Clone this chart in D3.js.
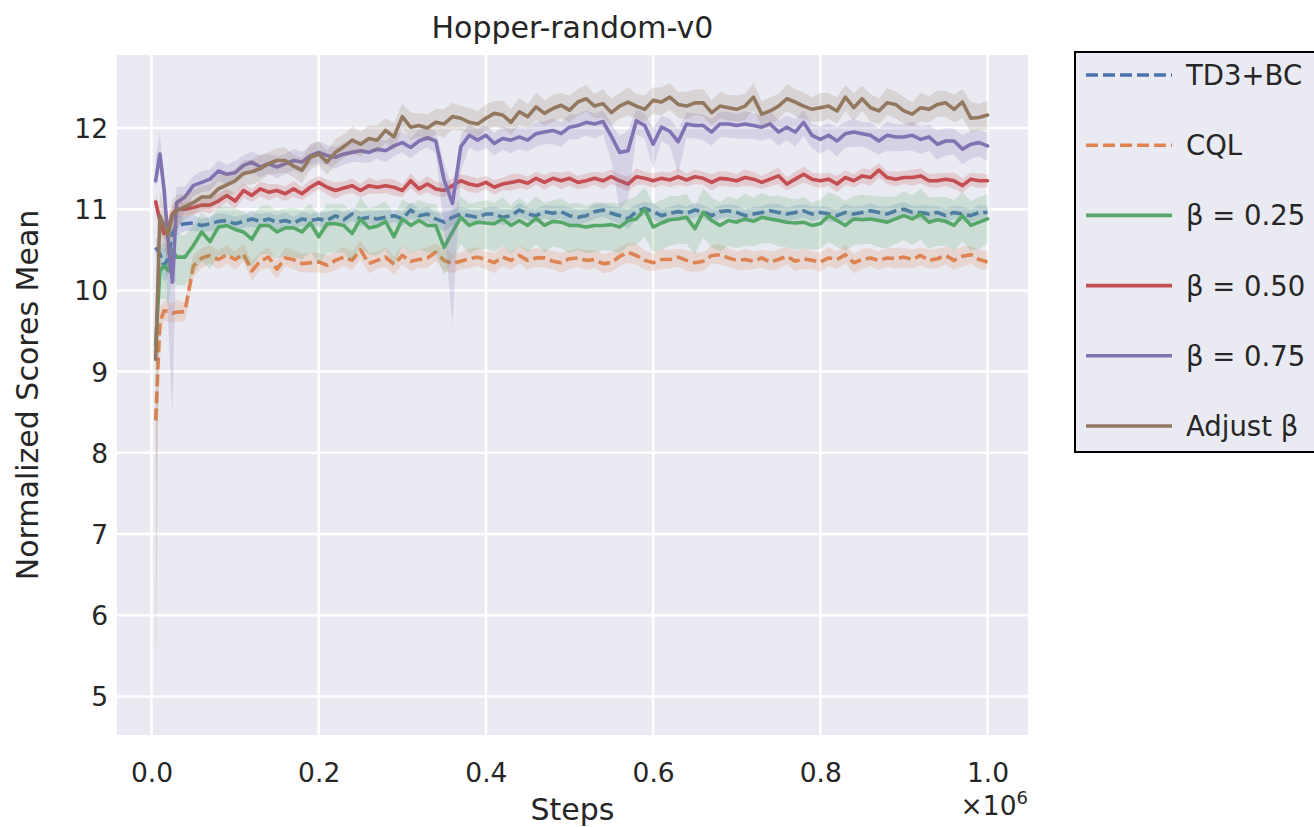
<!DOCTYPE html>
<html><head><meta charset="utf-8">
<script src="https://cdn.jsdelivr.net/npm/d3@7/dist/d3.min.js"></script>
<style>body{margin:0;background:#fff}svg{display:block}</style>
</head><body>
<svg id="c" width="1314" height="827"></svg>
<script>
// ---------------- data ----------------
const steps = [0.005,0.01,0.015,0.02,0.025,0.03,
 0.04,0.05,0.06,0.07,0.08,0.09,0.10,0.11,0.12,0.13,0.14,0.15,0.16,0.17,0.18,0.19,0.20,0.21,0.22,0.23,
 0.24,0.25,0.26,0.27,0.28,0.29,0.30,0.31,0.32,0.33,0.34,0.35,0.36,0.37,0.38,0.39,0.40,0.41,0.42,0.43,0.44,0.45,
 0.46,0.47,0.48,0.49,0.50,0.51,0.52,0.53,0.54,0.55,0.56,0.57,0.58,0.59,0.60,0.61,0.62,0.63,0.64,0.65,0.66,0.67,0.68,
 0.69,0.70,0.71,0.72,0.73,0.74,0.75,0.76,0.77,0.78,0.79,0.80,0.81,0.82,0.83,0.84,0.85,0.86,0.87,0.88,0.89,0.90,0.91,0.92,0.93,0.94,0.95,0.96,0.97,0.98,0.99,1.00];

const seriesNames = ["TD3+BC", "CQL", "β = 0.25", "β = 0.50", "β = 0.75", "Adjust β"];
const xTicks = [0.0, 0.2, 0.4, 0.6, 0.8, 1.0];
const xTickLabels = ["0.0", "0.2", "0.4", "0.6", "0.8", "1.0"];
const yTicks = [5, 6, 7, 8, 9, 10, 11, 12];

const td3Mean = [10.53,10.45,10.3,10.4,10.7,10.8,
 10.82,10.83,10.8,10.82,10.85,10.86,10.82,10.85,10.88,10.85,10.88,10.84,10.86,10.83,10.88,10.86,10.88,10.86,10.92,10.87,
 10.94,10.88,10.9,10.88,10.9,10.92,10.88,10.99,10.92,10.94,10.88,10.84,10.9,10.94,10.92,10.9,10.94,10.94,10.9,10.92,10.99,10.94,
 10.92,10.97,10.95,10.97,10.92,10.9,10.92,10.97,10.99,10.95,10.92,10.88,10.97,11.01,10.97,10.92,10.95,10.97,10.95,10.99,10.97,10.92,10.97,
 10.98,10.96,10.92,10.94,10.96,10.98,10.96,10.94,10.96,10.98,10.94,10.96,10.94,10.92,10.96,10.94,10.96,10.98,10.96,10.94,10.98,11.0,10.96,10.96,10.94,10.96,10.92,10.96,10.94,10.92,10.96,10.96];
const td3Sd = [.12,.15,.2,.2,.15,.12,
 .09,.1,.08,.09,.1,.08,.09,.08,.1,.09,.08,.09,.1,.08,.09,.08,.09,.1,.08,.09,
 .08,.09,.08,.1,.09,.08,.09,.1,.08,.09,.08,.12,.1,.09,.08,.09,.08,.09,.1,.08,.09,.08,
 .09,.08,.09,.08,.1,.09,.08,.09,.08,.09,.1,.12,.09,.08,.1,.09,.08,.09,.08,.09,.08,.09,.08,
 .08,.09,.08,.09,.08,.09,.1,.08,.09,.08,.09,.08,.09,.08,.1,.09,.08,.09,.08,.09,.08,.09,.08,.09,.1,.08,.09,.08,.09,.08,.09,.08];

const cqlMean = [8.4,9.6,9.75,9.74,9.72,9.73,
 9.74,10.3,10.4,10.43,10.38,10.44,10.38,10.45,10.24,10.36,10.41,10.26,10.4,10.38,10.33,10.34,10.35,10.31,10.37,10.41,
 10.37,10.5,10.33,10.37,10.41,10.32,10.43,10.36,10.38,10.4,10.47,10.37,10.33,10.36,10.39,10.41,10.38,10.34,10.41,10.37,10.43,10.37,
 10.4,10.4,10.36,10.34,10.39,10.4,10.37,10.38,10.33,10.34,10.42,10.47,10.43,10.37,10.34,10.38,10.38,10.41,10.37,10.34,10.36,10.43,10.44,
 10.4,10.37,10.38,10.36,10.4,10.35,10.38,10.42,10.36,10.39,10.37,10.35,10.4,10.38,10.44,10.34,10.38,10.4,10.37,10.4,10.39,10.41,10.38,10.43,10.37,10.39,10.43,10.37,10.42,10.44,10.38,10.35];
const cqlLo = [.8,.2,.12,.12,.12,.12,
 .12,.15,.12,.1,.12,.11,.13,.1,.12,.11,.13,.12,.1,.12,.11,.12,.13,.1,.12,.11,
 .12,.11,.12,.1,.12,.13,.11,.12,.1,.12,.11,.13,.12,.1,.12,.11,.12,.13,.11,.12,.1,.12,
 .11,.12,.1,.12,.13,.11,.12,.1,.12,.11,.12,.13,.11,.12,.1,.12,.11,.12,.13,.11,.12,.1,.12,
 .11,.12,.13,.1,.12,.11,.12,.1,.12,.13,.11,.12,.1,.12,.11,.13,.12,.1,.12,.11,.12,.13,.11,.12,.1,.12,.11,.12,.13,.11,.12,.1];
const cqlHi = [.3,.2,.12,.12,.12,.15,
 .11,.14,.12,.13,.11,.12,.1,.13,.12,.11,.12,.1,.13,.11,.12,.13,.11,.12,.1,.13,
 .11,.12,.13,.11,.12,.1,.13,.11,.12,.13,.11,.14,.12,.11,.13,.12,.1,.12,.13,.11,.12,.13,
 .12,.11,.13,.12,.1,.12,.13,.11,.12,.13,.11,.12,.14,.12,.11,.13,.12,.1,.12,.13,.11,.12,.13,
 .12,.11,.13,.12,.1,.13,.12,.11,.12,.13,.11,.12,.13,.1,.12,.11,.13,.12,.11,.12,.13,.11,.12,.1,.13,.12,.11,.13,.12,.11,.12,.13];

const b25Mean = [9.33,10.24,10.3,10.24,10.5,10.41,
 10.41,10.55,10.72,10.6,10.78,10.8,10.75,10.72,10.63,10.8,10.8,10.72,10.77,10.77,10.72,10.83,10.66,10.82,10.82,10.8,
 10.7,10.88,10.77,10.79,10.85,10.66,10.88,10.8,10.86,10.8,10.8,10.53,10.72,10.9,10.8,10.84,10.83,10.82,10.88,10.8,10.86,10.8,
 10.89,10.8,10.85,10.84,10.8,10.8,10.78,10.8,10.8,10.81,10.78,10.86,10.88,11.0,10.78,10.83,10.87,10.88,10.9,10.76,10.96,10.86,10.8,
 10.86,10.84,10.88,10.85,10.9,10.88,10.86,10.84,10.83,10.84,10.8,10.82,10.92,10.86,10.8,10.88,10.87,10.88,10.86,10.84,10.88,10.92,10.88,10.94,10.84,10.87,10.85,10.8,10.92,10.8,10.84,10.88];
const b25Lo = [.5,.35,.4,.4,.35,.35,
 .35,.35,.36,.34,.35,.37,.33,.35,.34,.36,.35,.33,.35,.36,.34,.35,.33,.36,.35,.34,
 .34,.35,.33,.36,.34,.35,.33,.34,.36,.33,.34,.35,.34,.33,.35,.34,.32,.34,.33,.35,.32,.33,
 .32,.33,.31,.32,.34,.31,.32,.33,.31,.32,.33,.31,.32,.34,.31,.33,.32,.31,.33,.32,.31,.33,.32,
 .31,.32,.33,.31,.32,.3,.32,.31,.33,.32,.3,.31,.32,.33,.31,.32,.3,.31,.33,.32,.31,.3,.32,.31,.33,.32,.3,.31,.32,.31,.33,.3];
const b25Hi = [.5,.3,.3,.3,.3,.3,
 .26,.25,.24,.27,.25,.24,.26,.25,.27,.24,.25,.26,.24,.25,.27,.24,.26,.25,.24,.26,
 .25,.27,.24,.26,.25,.27,.24,.26,.25,.27,.26,.28,.25,.26,.27,.25,.28,.26,.27,.25,.28,.26,
 .27,.28,.26,.29,.27,.28,.26,.29,.28,.27,.29,.26,.28,.27,.29,.28,.3,.28,.29,.27,.3,.28,.29,
 .3,.28,.31,.29,.3,.28,.31,.3,.29,.31,.28,.3,.29,.31,.3,.28,.31,.29,.3,.31,.28,.3,.29,.31,.3,.28,.3,.31,.29,.3,.31,.3];

const b50Mean = [11.09,10.86,10.7,10.76,10.94,11.0,
 11.0,11.02,11.05,11.05,11.1,11.17,11.1,11.23,11.17,11.25,11.21,11.23,11.19,11.25,11.19,11.27,11.33,11.27,11.23,11.26,
 11.29,11.23,11.29,11.27,11.29,11.27,11.23,11.35,11.25,11.31,11.25,11.23,11.29,11.35,11.31,11.29,11.33,11.27,11.31,11.33,11.35,11.32,
 11.38,11.33,11.38,11.35,11.38,11.33,11.35,11.38,11.35,11.4,11.35,11.31,11.4,11.38,11.35,11.38,11.36,11.4,11.36,11.4,11.38,11.33,11.38,
 11.37,11.35,11.39,11.37,11.33,11.37,11.41,11.31,11.37,11.43,11.37,11.35,11.37,11.31,11.39,11.35,11.41,11.39,11.48,11.39,11.37,11.39,11.39,11.41,11.35,11.35,11.37,11.35,11.29,11.37,11.35,11.35];
const b50Sd = [.12,.12,.1,.1,.1,.1,
 .08,.09,.08,.1,.09,.08,.1,.09,.08,.09,.1,.08,.09,.1,.08,.09,.08,.09,.1,.08,
 .09,.08,.1,.08,.09,.1,.08,.09,.08,.1,.09,.08,.09,.08,.1,.09,.08,.09,.08,.1,.09,.08,
 .08,.09,.08,.1,.09,.08,.09,.08,.1,.09,.08,.09,.1,.08,.09,.08,.09,.1,.08,.09,.08,.1,.09,
 .09,.08,.1,.09,.08,.09,.1,.08,.09,.1,.08,.09,.08,.1,.09,.08,.09,.1,.09,.08,.09,.08,.1,.09,.08,.09,.08,.1,.09,.08,.09,.08];

const b75Mean = [11.35,11.68,11.25,10.59,10.1,11.08,
 11.15,11.29,11.33,11.37,11.47,11.43,11.45,11.54,11.58,11.52,11.56,11.52,11.56,11.6,11.58,11.66,11.7,11.66,11.64,11.68,
 11.7,11.72,11.7,11.74,11.72,11.78,11.82,11.76,11.84,11.88,11.84,11.36,11.07,11.77,11.91,11.85,11.91,11.81,11.87,11.85,11.89,11.85,
 11.93,11.95,11.97,11.93,12.01,12.03,12.07,12.05,12.08,11.9,11.7,11.72,12.09,12.03,11.8,12.01,11.96,11.83,12.05,12.03,12.03,11.95,12.05,
 12.05,12.03,12.05,12.03,12.01,12.05,11.95,12.01,11.95,12.07,11.91,11.86,11.91,11.84,11.93,11.95,11.93,11.91,11.84,11.91,11.89,11.89,11.91,11.86,11.89,11.8,11.84,11.84,11.74,11.8,11.82,11.78];
const b75Lo = [.1,.15,.3,1.0,1.6,.4,
 .15,.13,.12,.14,.12,.13,.12,.14,.12,.13,.12,.14,.13,.12,.14,.12,.13,.12,.14,.13,
 .12,.14,.13,.12,.14,.13,.12,.14,.13,.12,.15,.6,1.5,.3,.15,.14,.16,.15,.14,.16,.15,.14,
 .16,.15,.17,.16,.15,.17,.16,.18,.16,.3,.7,.6,.17,.16,.3,.17,.18,.4,.17,.16,.18,.17,.16,
 .17,.16,.18,.17,.16,.18,.17,.16,.18,.17,.16,.18,.17,.19,.17,.18,.16,.18,.17,.19,.18,.17,.19,.18,.17,.19,.18,.17,.19,.18,.17,.19];
const b75Hi = [.3,.25,.2,.2,.3,.2,
 .13,.12,.14,.12,.13,.12,.14,.12,.13,.14,.12,.13,.12,.14,.13,.12,.14,.13,.12,.14,
 .13,.12,.14,.13,.12,.14,.13,.12,.14,.13,.12,.2,.2,.15,.13,.14,.12,.13,.15,.14,.13,.15,
 .14,.13,.15,.14,.16,.14,.15,.13,.14,.15,.2,.25,.14,.15,.2,.14,.15,.16,.14,.15,.14,.16,.15,
 .15,.14,.16,.15,.14,.16,.15,.14,.16,.15,.14,.16,.15,.17,.15,.16,.14,.16,.15,.17,.16,.15,.17,.16,.15,.17,.16,.15,.17,.16,.15,.17];

const adjMean = [9.15,10.92,10.8,10.68,10.92,10.98,
 11.03,11.08,11.15,11.15,11.25,11.3,11.35,11.44,11.46,11.5,11.56,11.6,11.6,11.53,11.48,11.64,11.68,11.58,11.7,11.77,
 11.85,11.8,11.87,11.85,11.97,11.89,12.14,12.01,12.03,12.0,12.07,12.05,12.14,12.12,12.07,12.05,12.12,12.18,12.16,12.07,12.2,12.14,
 12.26,12.18,12.24,12.28,12.22,12.32,12.36,12.27,12.3,12.19,12.27,12.32,12.27,12.23,12.34,12.32,12.38,12.29,12.27,12.31,12.31,12.19,12.27,
 12.25,12.23,12.27,12.38,12.17,12.21,12.27,12.36,12.32,12.27,12.23,12.25,12.27,12.21,12.38,12.25,12.36,12.25,12.21,12.31,12.29,12.21,12.17,12.25,12.23,12.29,12.31,12.23,12.32,12.12,12.13,12.16];
const adjLo = [4.25,.3,.3,.3,.2,.2,
 .15,.14,.16,.15,.14,.16,.15,.14,.16,.15,.14,.16,.15,.14,.16,.15,.14,.16,.15,.14,
 .16,.15,.14,.16,.15,.17,.15,.16,.14,.16,.15,.17,.16,.15,.14,.16,.15,.17,.16,.15,.16,.15,
 .16,.15,.17,.16,.15,.17,.16,.15,.17,.16,.15,.17,.16,.15,.17,.16,.15,.17,.16,.15,.17,.16,.15,
 .16,.15,.17,.16,.15,.17,.16,.15,.17,.16,.15,.17,.16,.15,.17,.16,.15,.17,.16,.15,.17,.16,.15,.17,.16,.15,.17,.16,.2,.17,.16,.18];
const adjHi = [.4,.3,.2,.2,.2,.2,
 .15,.16,.14,.15,.17,.15,.14,.16,.15,.17,.14,.15,.16,.14,.15,.17,.15,.14,.16,.15,
 .17,.15,.16,.18,.15,.17,.16,.18,.15,.17,.16,.18,.17,.15,.18,.16,.17,.15,.18,.16,.17,.15,
 .18,.16,.17,.15,.18,.16,.17,.15,.18,.17,.16,.18,.15,.17,.16,.18,.17,.15,.18,.16,.17,.15,.18,
 .16,.17,.15,.18,.16,.17,.15,.18,.16,.17,.15,.18,.16,.17,.15,.18,.16,.17,.15,.18,.16,.17,.15,.18,.16,.17,.15,.18,.16,.2,.17,.18];

// ---------------- chart ----------------
const W = 1314, H = 827;
const plot = {left: 117, right: 1028, top: 55, bottom: 735};
const textColor = "#262626";
const font = "DejaVu Sans, sans-serif";

const colors = ["#4c72b0", "#dd8452", "#55a868", "#c44e52", "#8172b3", "#937860"];
const dashes = ["12,5", "12,5", null, null, null, null];
const series = [
  {mean: td3Mean, lo: td3Sd, hi: td3Sd},
  {mean: cqlMean, lo: cqlLo, hi: cqlHi},
  {mean: b25Mean, lo: b25Lo, hi: b25Hi},
  {mean: b50Mean, lo: b50Sd, hi: b50Sd},
  {mean: b75Mean, lo: b75Lo, hi: b75Hi},
  {mean: adjMean, lo: adjLo, hi: adjHi}
].map((s, k) => ({...s, name: seriesNames[k], color: colors[k], dash: dashes[k]}));

// x: 0 -> 151.5px, 1.0 -> 987.5px ; y: 12 -> 128px, 1 unit = 81.2px
const x = d3.scaleLinear().domain([-0.04127, 1.04844]).range([plot.left, plot.right]);
const y = d3.scaleLinear().domain([4.5246, 12.899]).range([plot.bottom, plot.top]);

const svg = d3.select("#c");
svg.append("rect").attr("width", W).attr("height", H).attr("fill", "#fff");

svg.append("defs").append("clipPath").attr("id", "clip")
  .append("rect").attr("x", plot.left).attr("y", plot.top)
  .attr("width", plot.right - plot.left).attr("height", plot.bottom - plot.top);

svg.append("rect").attr("x", plot.left).attr("y", plot.top)
  .attr("width", plot.right - plot.left).attr("height", plot.bottom - plot.top)
  .attr("fill", "#eaeaf2");

// grid
const grid = svg.append("g").attr("stroke", "#fff").attr("stroke-width", 2.5);
grid.selectAll("line.v").data(xTicks).join("line")
  .attr("x1", d => x(d)).attr("x2", d => x(d)).attr("y1", plot.top).attr("y2", plot.bottom);
grid.selectAll("line.h").data(yTicks).join("line")
  .attr("y1", d => y(d)).attr("y2", d => y(d)).attr("x1", plot.left).attr("x2", plot.right);

// axes (tick labels only, seaborn darkgrid style)
const xAxis = d3.axisBottom(x).tickValues(xTicks).tickFormat((d, i) => xTickLabels[i]).tickSize(0).tickPadding(0);
const gx = svg.append("g").attr("transform", `translate(0,${plot.bottom})`).call(xAxis);
gx.select(".domain").remove();
gx.selectAll("text").attr("y", 47).attr("dy", null).attr("fill", textColor)
  .style("font-family", font).style("font-size", "26.5px");

const yAxis = d3.axisLeft(y).tickValues(yTicks).tickFormat(d3.format("d")).tickSize(0).tickPadding(0);
const gy = svg.append("g").attr("transform", `translate(${plot.left},0)`).call(yAxis);
gy.select(".domain").remove();
gy.selectAll("text").attr("x", -9).attr("dy", "0.36em").attr("fill", textColor)
  .style("font-family", font).style("font-size", "26.5px");

// data
const idx = d3.range(steps.length);
const gData = svg.append("g").attr("clip-path", "url(#clip)");
series.forEach(s => {
  const area = d3.area()
    .x(i => x(steps[i]))
    .y0(i => y(s.mean[i] - s.lo[i]))
    .y1(i => y(s.mean[i] + s.hi[i]));
  gData.append("path").datum(idx).attr("d", area)
    .attr("fill", s.color).attr("fill-opacity", 0.2).attr("stroke", "none");
  const line = d3.line().x(i => x(steps[i])).y(i => y(s.mean[i]));
  gData.append("path").datum(idx).attr("d", line)
    .attr("fill", "none").attr("stroke", s.color).attr("stroke-width", 3.6)
    .attr("stroke-linejoin", "round").attr("stroke-linecap", s.dash ? "butt" : "round")
    .attr("stroke-dasharray", s.dash);
});

// title & labels
svg.append("text").attr("x", (plot.left + plot.right) / 2).attr("y", 38)
  .attr("text-anchor", "middle").attr("fill", textColor)
  .style("font-family", font).style("font-size", "30px").text("Hopper-random-v0");
svg.append("text").attr("x", (plot.left + plot.right) / 2).attr("y", 820)
  .attr("text-anchor", "middle").attr("fill", textColor)
  .style("font-family", font).style("font-size", "30px").text("Steps");
svg.append("text").attr("transform", `translate(38,${(plot.top + plot.bottom) / 2}) rotate(-90)`)
  .attr("text-anchor", "middle").attr("fill", textColor)
  .style("font-family", font).style("font-size", "30px").text("Normalized Scores Mean");
const off = svg.append("text").attr("x", plot.right).attr("y", 815)
  .attr("text-anchor", "end").attr("fill", textColor)
  .style("font-family", font).style("font-size", "26.5px");
off.append("tspan").text("×10");
off.append("tspan").attr("dy", -11).style("font-size", "18px").text("6");

// legend
const lg = svg.append("g");
lg.append("rect").attr("x", 1075).attr("y", 52).attr("width", 260).attr("height", 400)
  .attr("fill", "#eaeaf2").attr("stroke", "#000").attr("stroke-width", 2);
const rowY = d3.scaleLinear().domain([0, 5]).range([75, 426]);
series.forEach((s, k) => {
  const yy = rowY(k);
  lg.append("line").attr("x1", 1086).attr("x2", 1172).attr("y1", yy).attr("y2", yy)
    .attr("stroke", s.color).attr("stroke-width", 3.6).attr("stroke-dasharray", s.dash);
  lg.append("text").attr("x", 1186).attr("y", yy).attr("dy", "0.36em")
    .attr("fill", textColor).style("font-family", font).style("font-size", "27.5px").text(s.name);
});
</script>
</body></html>
